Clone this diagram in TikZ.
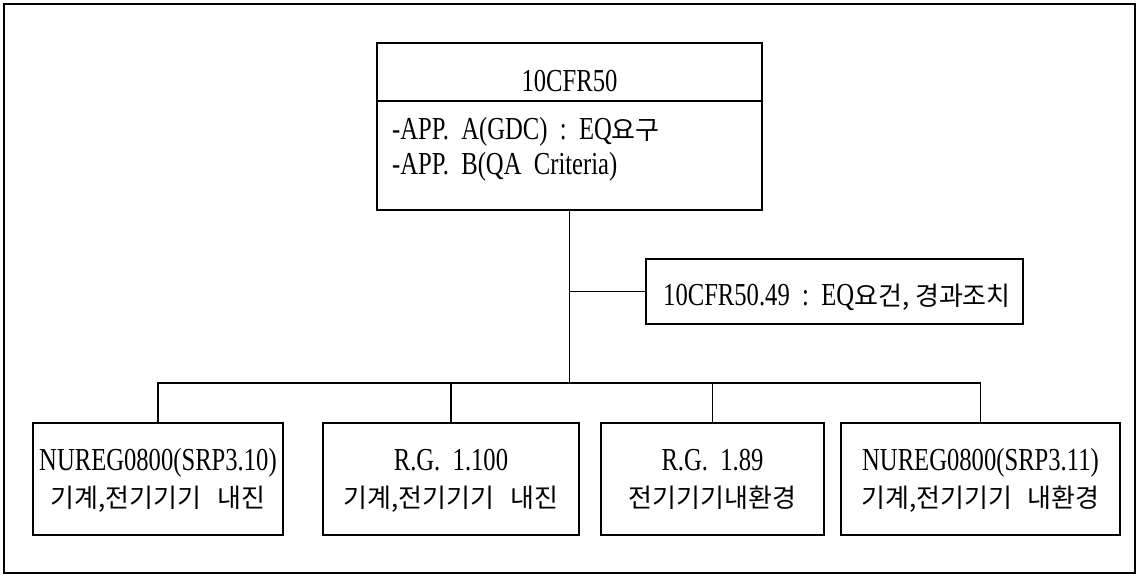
\documentclass[tikz,border=0pt]{standalone}
\usepackage{fontspec}
\setmainfont{Liberation Serif}[FakeStretch=0.77]
\newfontfamily\krfont{Noto Sans CJK KR}
\newcommand\hk[1]{{\krfont\fontsize{26}{26}\selectfont #1}}
\begin{document}
\begin{tikzpicture}[x=1pt,y=-1pt,
  box/.style={draw,line width=1.9pt,inner sep=0pt},
  conn/.style={line width=1.7pt},
  txt/.style={font=\fontsize{32}{32}\selectfont,inner sep=0pt,anchor=base},
  ltxt/.style={font=\fontsize{32}{32}\selectfont,inner sep=0pt,anchor=base west}]
\useasboundingbox (0,0) rectangle (1141,575);
% outer frame
\node[draw,line width=2.2pt,minimum width=1131pt,minimum height=569pt,inner sep=0pt] (frame) at (569.5,288.5) {};
% top box
\node[box,minimum width=385pt,minimum height=167pt] (top) at (569.5,126.5) {};
\coordinate (divL) at (377,101);
\coordinate (divR) at (762,101);
\draw[line width=1.9pt] (divL) -- (divR);
\node[txt] (title) at (569.5,92) {10CFR50};
\node[ltxt] (appa) at (392,140) {-APP.\ \ A(GDC)\ \ :\ \ EQ\hk{요구}};
\node[ltxt] (appb) at (392,175) {-APP.\ \ B(QA\ \ Criteria)};
% 50.49 box
\node[box,minimum width=377pt,minimum height=65pt] (sub) at (834.5,291.5) {};
\node[ltxt] (subt) at (663,305) {10CFR50.49\ \ :\ \ EQ\hk{요건,\ 경과조치}};
% bottom boxes
\node[box,minimum width=250pt,minimum height=112pt] (b1) at (158,479) {};
\node[box,minimum width=256pt,minimum height=112pt] (b2) at (451,479) {};
\node[box,minimum width=223pt,minimum height=112pt] (b3) at (712.5,479) {};
\node[box,minimum width=279pt,minimum height=112pt] (b4) at (980.5,479) {};
\node[txt] (b1a) at (158,470) {NUREG0800(SRP3.10)};
\node[txt] (b1b) at (158,507) {\hk{기계,전기기기\hspace{0.6em}내진}};
\node[txt] (b2a) at (451,470) {R.G.\ \ 1.100};
\node[txt] (b2b) at (451,507) {\hk{기계,전기기기\hspace{0.6em}내진}};
\node[txt] (b3a) at (712.5,470) {R.G.\ \ 1.89};
\node[txt] (b3b) at (712.5,507) {\hk{전기기기내환경}};
\node[txt] (b4a) at (980.5,470) {NUREG0800(SRP3.11)};
\node[txt] (b4b) at (980.5,507) {\hk{기계,전기기기\hspace{0.6em}내환경}};
% connectors
\coordinate (bus) at (569.5,383);
\coordinate (br) at (569.5,291.5);
\draw[conn] (top.south) -- (bus);
\draw[conn] (br) -- (sub.west);
\draw[conn] (b1.north) |- (bus) -| (b4.north);
\draw[conn] (b2.north) -- (b2.north |- bus);
\draw[conn] (b3.north) -- (b3.north |- bus);
\end{tikzpicture}
\end{document}
